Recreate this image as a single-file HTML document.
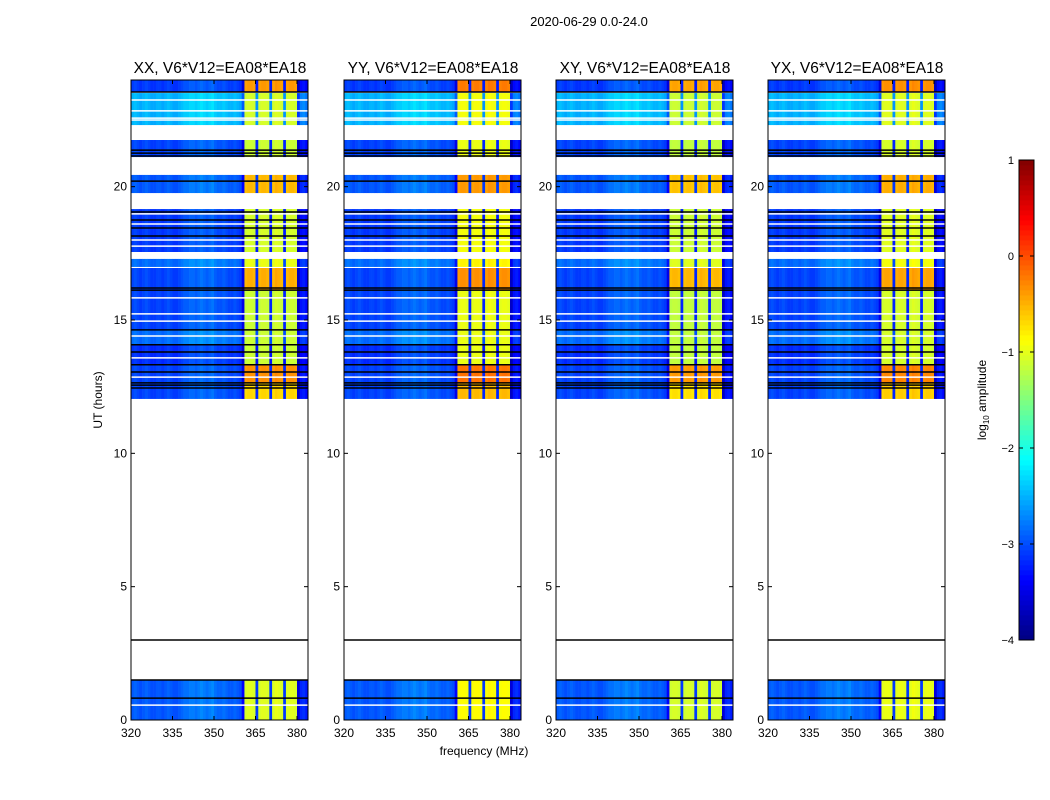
<!DOCTYPE html>
<html><head><meta charset="utf-8">
<style>
html,body{margin:0;padding:0;background:#fff;}
svg{display:block;font-family:"Liberation Sans","DejaVu Sans",sans-serif;}
</style></head>
<body>
<svg id="fig" width="1050" height="800" viewBox="0 0 1050 800"></svg>
<script>
// ---- data ----
const panelTitles = ["XX, V6*V12=EA08*EA18","YY, V6*V12=EA08*EA18","XY, V6*V12=EA08*EA18","YX, V6*V12=EA08*EA18"];
const panelBandGain = [0, 0.15, -0.05, 0.05];
const yTicks = [0,5,10,15,20];
const xTicks = [320,335,350,365,380];
const cbTicks = [1,0,-1,-2,-3,-4];
// spectrum offsets per 1-MHz channel, 320..383
const spectrum = [0.1,0.2,0.1,0,0.1,0.2,0.1,0,0,0.1,0.1,0,0.1,0.2,0.1,0,0,0.1,0.2,0.3,0.3,0.4,0.4,0.3,0.4,0.5,0.4,0.3,0.4,0.5,0.3,0.2,0.2,0.3,0.2,0.1,0.1,0.2,0.1,0,
  -0.3,0.1,0.2,0.2,0.1,-0.8,0.1,0.2,0.2,0.1,-0.8,0.1,0.3,0.2,0.1,-0.9,0.1,0.2,0.2,0.1,-0.6,0,0.1,-0.1];
const inBand = spectrum.map((v,i)=> (i>=41 && i<=59) ? 1 : 0);
// scan blocks: start hour, end hour, continuum level, band level
const blockStart = [23.55,22.31,21.11,19.76,17.55,16.99,16.12,14.63,14.07,13.32,12.64,12.04,0];
const blockEnd   = [24.0,23.51,21.75,20.44,19.16,17.29,16.95,16.12,14.63,14.07,13.32,12.64,1.5];
const blockLevel = [-3.15,-2.55,-3.1,-3.0,-3.15,-2.9,-3.1,-3.1,-2.9,-3.2,-3.1,-3.1,-3.0];
const blockBand  = [-0.45,-1.15,-1.2,-0.6,-1.15,-1.05,-0.55,-1.2,-1.2,-1.2,-0.4,-0.75,-1.1];
const blackLines = [23.55,21.37,21.26,21.15,20.21,19.05,18.75,18.45,18.15,16.2,16.12,14.63,14.07,13.8,13.32,13.05,12.64,12.56,12.45,3.0,1.5,0.82];
const whiteLines = [23.25,22.84,22.57,22.5,18.98,18.6,18.0,17.77,15.83,15.23,14.96,14.4,13.58,12.86,0.56];

// ---- helpers ----
const svg = document.getElementById('fig');
const NS = "http://www.w3.org/2000/svg";
function mk(tag, attrs, parent){const e=document.createElementNS(NS,tag);for(const k in attrs)e.setAttribute(k,attrs[k]);(parent||svg).appendChild(e);return e;}
function jet(v){let t=(v+4)/5;t=Math.max(0,Math.min(1,t));
  const r=Math.max(0,Math.min(1,Math.min(4*t-1.5,-4*t+4.5)));
  const g=Math.max(0,Math.min(1,Math.min(4*t-0.5,-4*t+3.5)));
  const b=Math.max(0,Math.min(1,Math.min(4*t+0.5,-4*t+2.5)));
  return `rgb(${Math.round(r*255)},${Math.round(g*255)},${Math.round(b*255)})`;}
const panelX=[131,344,556,768], PW=177, PT=80, PB=720;
const yScale = h => PB - h*(PB-PT)/24;
const xScale = f => 131 + (f-320)*(41.5/15);

let t=mk('text',{x:589,y:26,'font-size':13,'text-anchor':'middle'});
t.textContent="2020-06-29 0.0-24.0";

panelX.forEach((px,pi)=>{
  const g=mk('g',{transform:`translate(${px-131},0)`});
  
  
  const hm=mk('g',{},g);
  
  
  blockStart.forEach((s,bi)=>{
    const y0=yScale(blockEnd[bi]), y1=yScale(s);
    spectrum.forEach((sv,ci)=>{
      let v;
      if(inBand[ci]) v = sv<-0.5 ? blockLevel[bi]-0.1 : blockBand[bi]+panelBandGain[pi]+sv*0.4;
      else v = ci>=40 ? blockLevel[bi]-0.2+sv*0.6 : blockLevel[bi]+sv*0.6;
      const x0=xScale(320+ci), x1=Math.min(xScale(321+ci),308);
      const r=mk('rect',{x:x0,y:y0,width:x1-x0+0.3,height:y1-y0,fill:jet(v)},hm);
      
      
    });
  });
  whiteLines.forEach(h=>{const l=mk('line',{x1:131,x2:308,y1:yScale(h),y2:yScale(h),stroke:'#fff','stroke-width':1.5},g);
    });
  blackLines.forEach(h=>{const l=mk('line',{x1:131,x2:308,y1:yScale(h),y2:yScale(h),stroke:'#000','stroke-width':1.5},g);
    });
  const fr=mk('rect',{x:131,y:PT,width:PW,height:PB-PT,fill:'none',stroke:'#000','stroke-width':1},g);
  
  yTicks.forEach(v=>{const y=yScale(v);
    mk('line',{x1:131,x2:135,y1:y,y2:y,stroke:'#000'},g);mk('line',{x1:304,x2:308,y1:y,y2:y,stroke:'#000'},g);
    const tt=mk('text',{x:127,y:y+4,'font-size':12,'text-anchor':'end'},g);
    tt.textContent=v;});
  xTicks.forEach(v=>{const x=xScale(v);
    mk('line',{x1:x,x2:x,y1:PB,y2:PB-4,stroke:'#000'},g);mk('line',{x1:x,x2:x,y1:PT,y2:PT+4,stroke:'#000'},g);
    const tt=mk('text',{x:x,y:737,'font-size':12,'text-anchor':'middle'},g);
    tt.textContent=v;});
  const ti=mk('text',{x:220,y:73,'font-size':15.5,'text-anchor':'middle'},g);
  ti.textContent=panelTitles[pi];
});

t=mk('text',{x:102,y:400,'font-size':12,'text-anchor':'middle',transform:'rotate(-90 102 400)'});
t.textContent="UT (hours)";
t=mk('text',{x:484,y:755,'font-size':12,'text-anchor':'middle'});
t.textContent="frequency (MHz)";

// colorbar
const cb=mk('g',{});

const CT=160, CB=640;
const cbY = v => CB - (v+4)*(CB-CT)/5;
for(let i=0;i<96;i++){const v=-4+i*5/96;
  mk('rect',{x:1019,y:cbY(v+5/96),width:15,height:(CB-CT)/96+0.4,fill:jet(v+2.5/96)},cb);}
mk('rect',{x:1019,y:CT,width:15,height:CB-CT,fill:'none',stroke:'#000'},cb);
cbTicks.forEach(v=>{const y=cbY(v);
  mk('line',{x1:1019,x2:1023,y1:y,y2:y,stroke:'#000'},cb);mk('line',{x1:1030,x2:1034,y1:y,y2:y,stroke:'#000'},cb);
  const tt=mk('text',{x:1014,y:y+4,'font-size':11,'text-anchor':'end'},cb);
  tt.textContent=v<0?'\u2212'+(-v):v;});
t=mk('text',{x:986,y:400,'font-size':12,'text-anchor':'middle',transform:'rotate(-90 986 400)'});

t.innerHTML='log<tspan font-size="8" dy="3">10</tspan><tspan dy="-3"> amplitude</tspan>';
</script>
</body></html>
